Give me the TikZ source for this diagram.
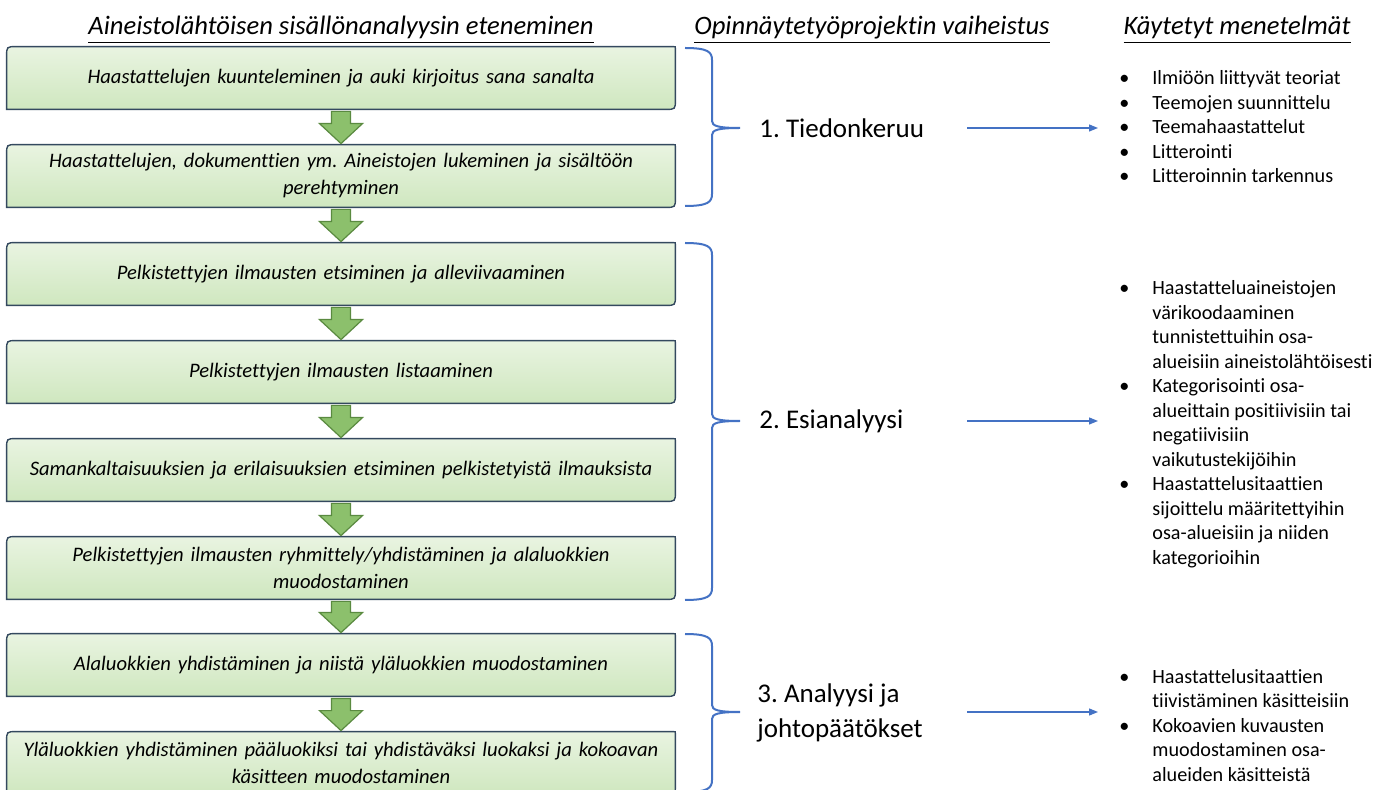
\documentclass[tikz,border=0pt]{standalone}
\usepackage{fontspec}
\setmainfont{Carlito}[Ligatures=CommonOff]
\usetikzlibrary{calc,backgrounds,arrows.meta}
\frenchspacing

\definecolor{boxtop}{HTML}{E9F4E1}
\definecolor{boxbot}{HTML}{CFE7BF}
\definecolor{boxline}{HTML}{34495F}
\definecolor{arrowfill}{HTML}{8CC06C}
\definecolor{arrowline}{HTML}{5A8A40}
\definecolor{braceblue}{HTML}{4472C4}

% green step box: rounded top-left and bottom-right corners, drawn behind the node
\newcommand\roundbox[1]{%
  \path[boxshape] (#1.south west) -- ([yshift=-5pt]#1.north west)
    .. controls (#1.north west) .. ([xshift=5pt]#1.north west)
    -- ([xshift=-1pt]#1.north east) .. controls (#1.north east) .. ([yshift=-1pt]#1.north east)
    -- ([yshift=5pt]#1.south east)
    .. controls (#1.south east) .. ([xshift=-5pt]#1.south east) -- cycle;}

% block arrow from the bottom of one box to the top of the next
\newcommand\flowarrow[2]{%
  \path[blockarrow] let \p1=(#1.south), \p2=(#2.north) in
    (\x1-4.75pt,\y1-1pt) -- (\x1+4.75pt,\y1-1pt) -- (\x1+4.75pt,\y2+10.5pt)
    -- (\x1+10.75pt,\y2+10.5pt) -- (\x1,\y2+0.5pt) -- (\x1-10.75pt,\y2+10.5pt)
    -- (\x1-4.75pt,\y2+10.5pt) -- cycle;}

% curly brace: top end, middle tip, bottom end (y values)
\newcommand\phasebrace[3]{%
  \draw[brace] (685,#1) .. controls (708,#1) and (712,#1+4) .. (712,#1+12)
    -- (712,#2-7) .. controls (712,#2-2) and (718,#2) .. (740,#2)
    .. controls (718,#2) and (712,#2+2) .. (712,#2+7)
    -- (712,#3-12) .. controls (712,#3-4) and (708,#3) .. (685,#3);}

\begin{document}
\begin{tikzpicture}[x=0.5pt,y=-0.5pt,
  stepbox/.style={minimum width=334pt, minimum height=31pt, inner sep=0pt,
    align=center, text width=328pt,
    font=\fontsize{10.3pt}{13.5pt}\selectfont\itshape},
  boxshape/.style={top color=boxtop, bottom color=boxbot, draw=boxline, line width=0.7pt},
  blockarrow/.style={fill=arrowfill, draw=arrowline, line width=0.6pt, line join=miter},
  brace/.style={draw=braceblue, line width=1pt},
  heading/.style={anchor=base, inner sep=0pt, font=\fontsize{13.3pt}{16pt}\selectfont\itshape},
  phase/.style={anchor=west, inner sep=0pt, align=left,
    font=\fontsize{13.5pt}{17.5pt}\selectfont},
  methods/.style={anchor=base west, inner sep=0pt,
    font=\fontsize{10.1pt}{12.25pt}\selectfont},
  conn/.style={draw=braceblue, line width=0.6pt, -{Triangle[length=4.5pt,width=3.5pt]}}]

\useasboundingbox (0,0) rectangle (1392,790);

% column headings
\node[heading] (h1) at (341,35) {\underline{Aineistolähtöisen sisällönanalyysin eteneminen}};
\node[heading] (h2) at (872,35) {\underline{Opinnäytetyöprojektin vaiheistus}};
\node[heading] (h3) at (1237,35) {\underline{Käytetyt menetelmät}};

% analysis steps
\node[stepbox] (b1) at (341,78) {Haastattelujen kuunteleminen ja auki kirjoitus sana sanalta};
\node[stepbox] (b2) at (341,176) {Haastattelujen, dokumenttien ym. Aineistojen lukeminen ja sisältöön\\perehtyminen};
\node[stepbox] (b3) at (341,274) {Pelkistettyjen ilmausten etsiminen ja alleviivaaminen};
\node[stepbox] (b4) at (341,372) {Pelkistettyjen ilmausten listaaminen};
\node[stepbox] (b5) at (341,470) {Samankaltaisuuksien ja erilaisuuksien etsiminen pelkistetyistä ilmauksista};
\node[stepbox] (b6) at (341,568) {Pelkistettyjen ilmausten ryhmittely/yhdistäminen ja alaluokkien\\muodostaminen};
\node[stepbox] (b7) at (341,665) {Alaluokkien yhdistäminen ja niistä yläluokkien muodostaminen};
\node[stepbox] (b8) at (341,763) {Yläluokkien yhdistäminen pääluokiksi tai yhdistäväksi luokaksi ja kokoavan\\käsitteen muodostaminen};

\begin{pgfonlayer}{background}
  \fill[white] (0,0) rectangle (1392,790);
  \foreach \b in {b1,b2,b3,b4,b5,b6,b7,b8} {\roundbox{\b}}
\end{pgfonlayer}

\flowarrow{b1}{b2}
\flowarrow{b2}{b3}
\flowarrow{b3}{b4}
\flowarrow{b4}{b5}
\flowarrow{b5}{b6}
\flowarrow{b6}{b7}
\flowarrow{b7}{b8}

% project phases
\phasebrace{48}{128}{206}
\phasebrace{243}{421}{600}
\phasebrace{634}{712}{792}

\node[phase] (p1) at (759,128) {1. Tiedonkeruu};
\node[phase] (p2) at (759,421) {2. Esianalyysi};
\node[phase] (p3) at (757,713) {3. Analyysi ja\\johtopäätökset};

% methods used
\node[methods] (m1) at (1119,85) {\begin{tabular}[t]{@{}p{16.5pt}@{}l@{}}
\textbullet & Ilmiöön liittyvät teoriat\\
\textbullet & Teemojen suunnittelu\\
\textbullet & Teemahaastattelut\\
\textbullet & Litterointi\\
\textbullet & Litteroinnin tarkennus
\end{tabular}};

\node[methods] (m2) at (1119,295) {\begin{tabular}[t]{@{}p{16.5pt}@{}l@{}}
\textbullet & Haastatteluaineistojen\\
 & värikoodaaminen\\
 & tunnistettuihin osa-\\
 & alueisiin aineistolähtöisesti\\
\textbullet & Kategorisointi osa-\\
 & alueittain positiivisiin tai\\
 & negatiivisiin\\
 & vaikutustekijöihin\\
\textbullet & Haastattelusitaattien\\
 & sijoittelu määritettyihin\\
 & osa-alueisiin ja niiden\\
 & kategorioihin
\end{tabular}};

\node[methods] (m3) at (1119,683) {\begin{tabular}[t]{@{}p{16.5pt}@{}l@{}}
\textbullet & Haastattelusitaattien\\
 & tiivistäminen käsitteisiin\\
\textbullet & Kokoavien kuvausten\\
 & muodostaminen osa-\\
 & alueiden käsitteistä
\end{tabular}};

% phase -> methods connectors
\coordinate (c1s) at (967,128);  \coordinate (c1e) at (1098,128);
\coordinate (c2s) at (967,421);  \coordinate (c2e) at (1098,421);
\coordinate (c3s) at (967,712);  \coordinate (c3e) at (1098,712);
\draw[conn] (c1s) -- (c1e);
\draw[conn] (c2s) -- (c2e);
\draw[conn] (c3s) -- (c3e);

\end{tikzpicture}
\end{document}
